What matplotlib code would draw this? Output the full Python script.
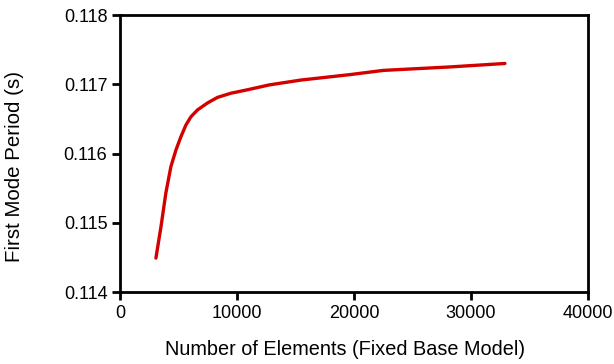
import matplotlib.pyplot as plt

plt.rcParams['font.family'] = ['Liberation Sans', 'DejaVu Sans']

elements = [3070, 3500, 3920, 4350, 4780, 5200, 5630, 6060, 6630, 7480, 8330, 9470,
            10890, 12740, 15440, 19700, 22500, 28200, 32900]
period = [0.11449, 0.11494, 0.11543, 0.11581, 0.11605, 0.11624, 0.11641, 0.11653,
          0.11663, 0.11673, 0.11681, 0.11687, 0.11692, 0.11699, 0.11706, 0.11714,
          0.11720, 0.11725, 0.11730]

fig = plt.figure(figsize=(6.14, 3.64), dpi=100)
ax = fig.add_axes([120 / 614, 1 - 292 / 364, 468 / 614, 277 / 364])

ax.plot(elements, period, color="#d40000", lw=2.4, solid_capstyle="round",
        solid_joinstyle="round")

ax.set_xlim(0, 40000)
ax.set_ylim(0.114, 0.118)
ax.set_xticks([0, 10000, 20000, 30000, 40000])
ax.set_yticks([0.114, 0.115, 0.116, 0.117, 0.118])
ax.set_yticklabels(["0.114", "0.115", "0.116", "0.117", "0.118"])

for s in ax.spines.values():
    s.set_linewidth(2)
ax.tick_params(direction="out", length=6, width=2, labelsize=13, pad=3)

ax.set_xlabel("Number of Elements (Fixed Base Model)", fontsize=14.3)
ax.set_ylabel("First Mode Period (s)", fontsize=14.8)
ax.xaxis.set_label_coords(0.48, -0.172)
ax.yaxis.set_label_coords(-0.205, 0.453)

fig.savefig("out.png", dpi=100)
